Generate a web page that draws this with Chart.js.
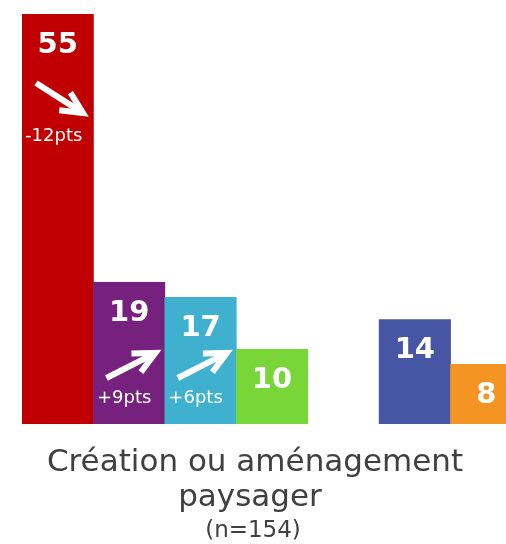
<!DOCTYPE html>
<html>
<head>
<meta charset="utf-8">
<script src="https://cdn.jsdelivr.net/npm/chart.js@4/dist/chart.umd.min.js"></script>
<style>
  html, body { margin: 0; padding: 0; background: #fff; overflow: hidden; }
  #wrap { width: 506px; height: 544px; overflow: hidden; }
  #chart { display: block; }
</style>
</head>
<body>
<div id="wrap"><canvas id="chart" width="530" height="544"></canvas></div>
<script>
// Chart data
const categoryLines = ['Création ou aménagement', 'paysager'];
const sampleNote = '(n=154)';
const seriesNames = ['S1', 'S2', 'S3', 'S4', 'S5', 'S6', 'S7'];
const values = [55, 19, 17, 10, null, 14, 8];
const changes = [-12, 9, 6, null, null, null, null];
const barColors = ['#C00000', '#76217D', '#3FB1CE', '#79D639', '#FFFFFF', '#4755A5', '#F49422'];

const FONT = '"DejaVu Sans", Verdana, sans-serif';
const VIEW_WIDTH = 506;

// White value labels inside the top of each bar
const valueLabels = {
  id: 'valueLabels',
  afterDatasetsDraw(chart) {
    const ctx = chart.ctx;
    const meta = chart.getDatasetMeta(0);
    ctx.save();
    ctx.fillStyle = '#FFFFFF';
    ctx.font = 'bold 29px ' + FONT;
    ctx.textAlign = 'center';
    ctx.textBaseline = 'middle';
    meta.data.forEach((bar, i) => {
      if (values[i] == null) return;
      ctx.fillText(String(values[i]), bar.x, bar.y + 31);
    });
    ctx.restore();
  }
};

function drawArrow(ctx, x0, y0, x1, y1) {
  const ang = Math.atan2(y1 - y0, x1 - x0);
  const head = 24, spread = 0.45;
  ctx.beginPath();
  ctx.moveTo(x0, y0);
  ctx.lineTo(x1 - Math.cos(ang) * 4, y1 - Math.sin(ang) * 4);
  ctx.stroke();
  ctx.beginPath();
  ctx.moveTo(x1 - head * Math.cos(ang - spread), y1 - head * Math.sin(ang - spread));
  ctx.lineTo(x1, y1);
  ctx.lineTo(x1 - head * Math.cos(ang + spread), y1 - head * Math.sin(ang + spread));
  ctx.stroke();
}

// Trend arrows with the change in points
const trendMarks = {
  id: 'trendMarks',
  afterDatasetsDraw(chart) {
    const ctx = chart.ctx;
    const meta = chart.getDatasetMeta(0);
    ctx.save();
    ctx.strokeStyle = '#FFFFFF';
    ctx.fillStyle = '#FFFFFF';
    ctx.lineWidth = 6;
    ctx.lineJoin = 'miter';
    ctx.font = '18px ' + FONT;
    ctx.textAlign = 'center';
    ctx.textBaseline = 'middle';
    meta.data.forEach((bar, i) => {
      const d = changes[i];
      if (d == null) return;
      const left = bar.x - bar.width / 2;
      const label = (d > 0 ? '+' : '') + d + 'pts';
      if (d < 0) {
        drawArrow(ctx, left + 14, bar.y + 69, left + 61, bar.y + 99);
        ctx.fillText(label, bar.x - 4, bar.y + 122);
      } else {
        const b = bar.base;
        drawArrow(ctx, left + 13, b - 46, left + 62, b - 71);
        ctx.fillText(label, bar.x - 5, b - 26);
      }
    });
    ctx.restore();
  }
};

// Category caption under the bars
const caption = {
  id: 'caption',
  afterDraw(chart) {
    const ctx = chart.ctx;
    const cx = VIEW_WIDTH / 2;
    ctx.save();
    ctx.fillStyle = '#404040';
    ctx.textAlign = 'center';
    ctx.textBaseline = 'alphabetic';
    ctx.font = '31px ' + FONT;
    ctx.fillText(categoryLines[0], cx + 2, 471);
    ctx.fillText(categoryLines[1], cx - 3, 506);
    ctx.font = '23px ' + FONT;
    ctx.fillText(sampleNote, cx, 537);
    ctx.restore();
  }
};

new Chart(document.getElementById('chart'), {
  type: 'bar',
  data: {
    labels: seriesNames,
    datasets: [{
      data: values,
      backgroundColor: barColors,
      borderWidth: 0,
      categoryPercentage: 1,
      barPercentage: 1
    }]
  },
  options: {
    responsive: false,
    animation: false,
    devicePixelRatio: 1,
    layout: { padding: { left: 22, right: 8, top: 14, bottom: 120 } },
    scales: {
      x: { display: false, grid: { display: false } },
      y: { display: false, min: 0, max: 55, grid: { display: false } }
    },
    plugins: {
      legend: { display: false },
      tooltip: { enabled: false }
    }
  },
  plugins: [valueLabels, trendMarks, caption]
});
</script>
</body>
</html>
